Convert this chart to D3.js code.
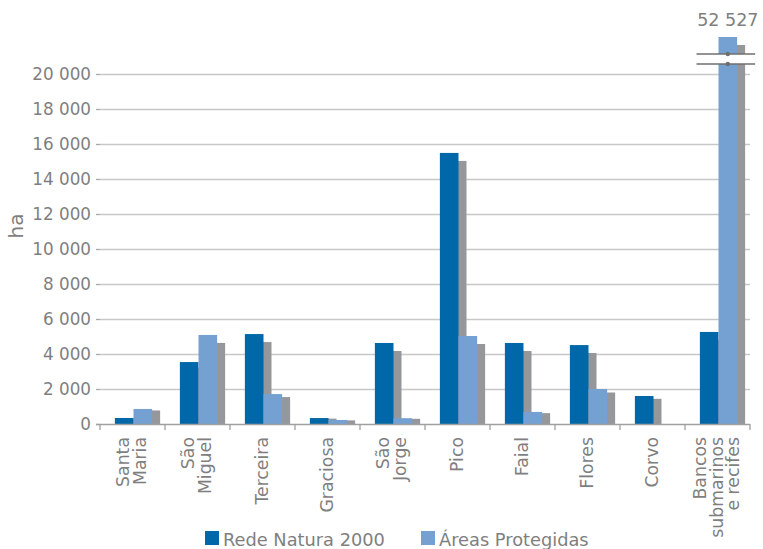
<!DOCTYPE html>
<html>
<head>
<meta charset="utf-8">
<script src="https://cdn.jsdelivr.net/npm/d3@7"></script>
<style>
  html, body { margin: 0; padding: 0; background: #fff; }
  svg { display: block; }
  text { font-family: "DejaVu Sans", Verdana, sans-serif; fill: #7f7f7f; }
</style>
</head>
<body>
<svg id="chart" width="763" height="549"></svg>
<script>
// Areas (ha) by island
const categories = [
  ["Santa", "Maria"], ["São", "Miguel"], ["Terceira"], ["Graciosa"], ["São", "Jorge"],
  ["Pico"], ["Faial"], ["Flores"], ["Corvo"], ["Bancos", "submarinos", "e recifes"]
];
const seriesNames = ["Rede Natura 2000", "Áreas Protegidas"];
const redeNatura = [345, 3540, 5140, 340, 4630, 15490, 4630, 4510, 1600, 5260];
const areasProtegidas = [860, 5090, 1710, 230, 330, 5030, 690, 2000, 0, 52527];
const yTicks = [0, 2000, 4000, 6000, 8000, 10000, 12000, 14000, 16000, 18000, 20000];
const axisMax = 20000;
const colors = ["#0067a8", "#74a1d2"];
const shadowColor = "#95979b";

const locale = d3.formatLocale({ decimal: ",", thousands: "\u00a0", grouping: [3], currency: ["", " €"] });
const fmt = locale.format(",d");

const svg = d3.select("#chart");
const plotLeft = 100, plotRight = 750, plotBottom = 424, plotTop = 74;

const x = d3.scaleBand().domain(d3.range(categories.length)).range([plotLeft, plotRight]);
const xSub = d3.scaleBand().domain([0, 1]).range([1, x.bandwidth() + 1])
  .paddingInner(0).paddingOuter(0.745);
const y = d3.scaleLinear().domain([0, axisMax]).range([plotBottom, plotTop]);
const overflowTop = y(axisMax) - 37;   // bars above the axis maximum end here
const yTop = v => v > axisMax ? overflowTop : y(v);

// gridlines
svg.append("g").selectAll("line").data(yTicks.slice(1)).join("line")
  .attr("x1", plotLeft).attr("x2", plotRight)
  .attr("y1", d => Math.round(y(d)) + 0.5).attr("y2", d => Math.round(y(d)) + 0.5)
  .attr("stroke", "#c8c8c8").attr("stroke-width", 1.3);

// y axis (ticks + labels only)
const yAxis = svg.append("g").attr("transform", `translate(${plotLeft},0)`)
  .call(d3.axisLeft(y).tickValues(yTicks).tickSize(4).tickPadding(5).tickFormat(fmt));
yAxis.select(".domain").remove();
yAxis.selectAll(".tick line").attr("stroke", "#a8a8a8").attr("stroke-width", 1.3);
yAxis.selectAll(".tick text").attr("font-size", "16.8px")
  .style("font-family", '"DejaVu Sans", Verdana, sans-serif').attr("fill", "#7f7f7f");

// bars with drop shadows
const series = [redeNatura, areasProtegidas];
const bw = xSub.bandwidth();
const barsG = svg.append("g");
series.forEach((vals, s) => {
  const g = barsG.append("g");
  vals.forEach((v, i) => {
    if (v <= 0) return;
    const x0 = x(i) + xSub(s);
    const t = yTop(v);
    const h = plotBottom - t;
    const off = Math.min(8, h * 0.1);
    g.append("rect").attr("x", x0 + 8).attr("y", t + off)
      .attr("width", bw).attr("height", h - off).attr("fill", shadowColor);
    g.append("rect").attr("x", x0).attr("y", t)
      .attr("width", bw).attr("height", h).attr("fill", colors[s]);
  });
});

// axis break for values beyond the axis maximum
series.forEach((vals, s) => {
  vals.forEach((v, i) => {
    if (v <= axisMax) return;
    const x0 = x(i) + xSub(s);
    const cx = x0 + bw / 2;
    const b1 = 54, b2 = 64;
    svg.append("rect").attr("x", x0 - 1).attr("y", b1).attr("width", bw + 10).attr("height", b2 - b1)
      .attr("fill", "#fff");
    [b1, b2].forEach(by => {
      svg.append("line").attr("x1", x0 - 22).attr("x2", x0 + bw + 18)
        .attr("y1", by).attr("y2", by).attr("stroke", "#6f6f6f").attr("stroke-width", 1.3);
      svg.append("circle").attr("cx", cx).attr("cy", by).attr("r", 2.2).attr("fill", "#6f6f6f");
    });
    svg.append("text").attr("x", cx).attr("y", 26).attr("text-anchor", "middle")
      .attr("font-size", "17.5px").text(fmt(v));
  });
});

// x axis
const xAxisG = svg.append("g");
xAxisG.append("line").attr("x1", plotLeft - 4).attr("x2", plotRight).attr("y1", plotBottom + 0.5).attr("y2", plotBottom + 0.5)
  .attr("stroke", "#a0a0a0").attr("stroke-width", 1.3);
xAxisG.selectAll("line.tk").data(d3.range(categories.length + 1)).join("line").attr("class", "tk")
  .attr("x1", d => plotLeft + d * x.bandwidth()).attr("x2", d => plotLeft + d * x.bandwidth())
  .attr("y1", plotBottom).attr("y2", plotBottom + 6).attr("stroke", "#a0a0a0").attr("stroke-width", 1.3);

// category labels, rotated
const lh = 16.5;
categories.forEach((lines, i) => {
  const cx = x(i) + x.bandwidth() / 2 - 1;
  const t = svg.append("text").attr("transform", `translate(${cx},437) rotate(-90)`)
    .attr("text-anchor", "end").attr("font-size", "17.3px");
  lines.forEach((ln, j) => {
    t.append("tspan").attr("x", 0)
      .attr("y", (j - (lines.length - 1) / 2) * lh + 6)
      .text(ln);
  });
});

// y axis title
svg.append("text").attr("transform", "translate(23,226) rotate(-90)")
  .attr("text-anchor", "middle").attr("font-size", "20px").text("ha");

// legend
const legendX = [205, 421];
seriesNames.forEach((name, s) => {
  svg.append("rect").attr("x", legendX[s]).attr("y", 531).attr("width", 14).attr("height", 14)
    .attr("fill", colors[s]);
  svg.append("text").attr("x", legendX[s] + 18).attr("y", 545.5).attr("font-size", "17.8px").text(name);
});
</script>
</body>
</html>
